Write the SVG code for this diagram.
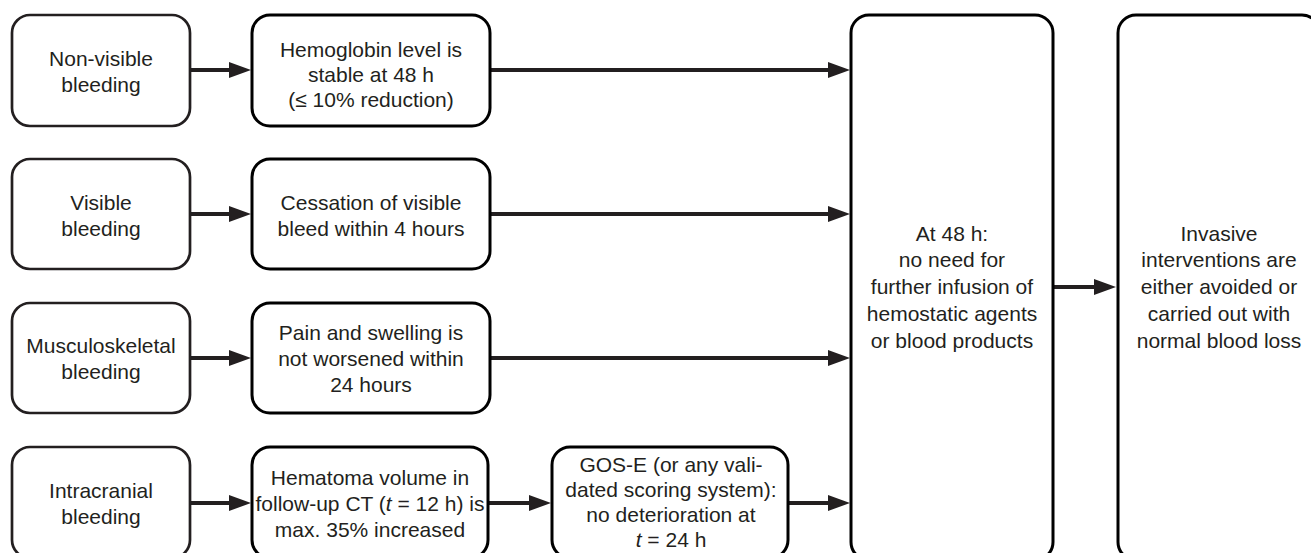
<svg xmlns="http://www.w3.org/2000/svg" width="1311" height="553" viewBox="0 0 1311 553">
<style>
.box{fill:#fff;stroke:#000;stroke-width:3}
.lbox{fill:#fff;stroke:#231f20;stroke-width:2.7}
.t{font-family:"Liberation Sans",Arial,sans-serif;font-size:21px;fill:#231f20;text-anchor:middle}
.c{stroke:#231f20;stroke-width:4;fill:none;marker-end:url(#ah)}
</style>
<defs>
<marker id="ah" markerUnits="userSpaceOnUse" markerWidth="22" markerHeight="16" refX="12" refY="8" orient="auto">
<path d="M0,0 L22,8 L0,16 z" fill="#231f20"/>
</marker>
</defs>
<rect width="1311" height="553" fill="#fff"/>
<g id="connectors">
<line class="c" x1="190" y1="70" x2="241" y2="70"/>
<line class="c" x1="490" y1="70" x2="840" y2="70"/>
<line class="c" x1="190" y1="214" x2="241" y2="214"/>
<line class="c" x1="490" y1="214" x2="840" y2="214"/>
<line class="c" x1="190" y1="358" x2="241" y2="358"/>
<line class="c" x1="490" y1="358" x2="840" y2="358"/>
<line class="c" x1="190" y1="503" x2="241" y2="503"/>
<line class="c" x1="488" y1="503" x2="541" y2="503"/>
<line class="c" x1="788" y1="503" x2="840" y2="503"/>
<line class="c" x1="1053" y1="287" x2="1106" y2="287"/>
</g>
<g id="n-nonvisible">
<rect class="lbox" x="12" y="15" width="178" height="111" rx="18"/>
<text class="t" x="101"><tspan x="101" y="65.5">Non-visible</tspan><tspan x="101" y="91.5">bleeding</tspan></text>
</g>
<g id="n-hemoglobin">
<rect class="box" x="252" y="15" width="238" height="111" rx="18"/>
<text class="t"><tspan x="371" y="57">Hemoglobin level is</tspan><tspan x="371" y="82">stable at 48 h</tspan><tspan x="371" y="107">(≤ 10% reduction)</tspan></text>
</g>
<g id="n-visible">
<rect class="lbox" x="12" y="159" width="178" height="110" rx="18"/>
<text class="t"><tspan x="101" y="209.5">Visible</tspan><tspan x="101" y="235.5">bleeding</tspan></text>
</g>
<g id="n-cessation">
<rect class="box" x="252" y="159" width="238" height="110" rx="18"/>
<text class="t"><tspan x="371" y="209.5">Cessation of visible</tspan><tspan x="371" y="235.5">bleed within 4 hours</tspan></text>
</g>
<g id="n-musculo">
<rect class="lbox" x="12" y="303" width="178" height="110" rx="18"/>
<text class="t"><tspan x="101" y="353">Musculoskeletal</tspan><tspan x="101" y="379">bleeding</tspan></text>
</g>
<g id="n-pain">
<rect class="box" x="252" y="303" width="238" height="110" rx="18"/>
<text class="t"><tspan x="371" y="340">Pain and swelling is</tspan><tspan x="371" y="366">not worsened within</tspan><tspan x="371" y="392">24 hours</tspan></text>
</g>
<g id="n-intracranial">
<rect class="lbox" x="12" y="447" width="178" height="111" rx="18"/>
<text class="t"><tspan x="101" y="497.5">Intracranial</tspan><tspan x="101" y="523.5">bleeding</tspan></text>
</g>
<g id="n-hematoma">
<rect class="box" x="252" y="447" width="236" height="111" rx="18"/>
<text class="t"><tspan x="370" y="485">Hematoma volume in</tspan><tspan x="370" y="511">follow-up CT (<tspan font-style="italic">t</tspan> = 12 h) is</tspan><tspan x="370" y="537">max. 35% increased</tspan></text>
</g>
<g id="n-gose">
<rect class="box" x="552" y="447" width="236" height="111" rx="18"/>
<text class="t"><tspan x="671" y="472">GOS-E (or any vali-</tspan><tspan x="671" y="497">dated scoring system):</tspan><tspan x="671" y="522">no deterioration at</tspan><tspan x="671" y="547"><tspan font-style="italic">t</tspan> = 24 h</tspan></text>
</g>
<g id="n-at48">
<rect class="box" x="851" y="15" width="202" height="545" rx="18"/>
<text class="t"><tspan x="952" y="240.5">At 48 h:</tspan><tspan x="952" y="267.3">no need for</tspan><tspan x="952" y="294.1">further infusion of</tspan><tspan x="952" y="320.9">hemostatic agents</tspan><tspan x="952" y="347.7">or blood products</tspan></text>
</g>
<g id="n-invasive">
<rect class="box" x="1118" y="15" width="202" height="545" rx="18"/>
<text class="t"><tspan x="1219" y="240.5">Invasive</tspan><tspan x="1219" y="267.3">interventions are</tspan><tspan x="1219" y="294.1">either avoided or</tspan><tspan x="1219" y="320.9">carried out with</tspan><tspan x="1219" y="347.7">normal blood loss</tspan></text>
</g>
</svg>
